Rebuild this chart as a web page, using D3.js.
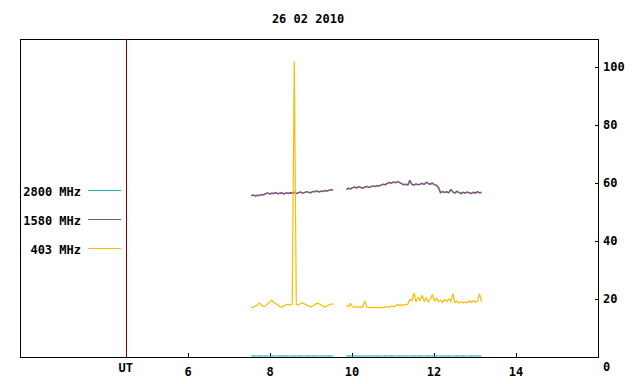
<!DOCTYPE html>
<html>
<head>
<meta charset="utf-8">
<script src="https://cdn.jsdelivr.net/npm/d3@7"></script>
<style>
  body { margin: 0; background: #fff; }
  text { font-family: "DejaVu Sans Mono", monospace; font-weight: bold; font-size: 12px; }
</style>
</head>
<body>
<div id="chart"></div>
<script>
(function() {
var width = 640,
    height = 384;

// sampling grid of the two observing runs (UT hours)
var startA = 7.54, startB = 9.86, step = 0.05;

var legendNames = ["2800 MHz", "1580 MHz", "403 MHz"];
var colors = ["#20b0b8", "#7b5c7d", "#fbbc05"];
var xTicks = [6, 8, 10, 12, 14];
var yTicks = [0, 20, 40, 60, 80, 100];
var title = "26 02 2010";

var f2800A = [0.2,0.3,0.2,0.2,0.3,0.2,0.2,0.3,0.2,0.2,0.3,0.2,0.2,0.2,0.3,0.2,0.2,0.3,0.2,0.2,
  0.2,0.3,0.2,0.2,0.3,0.2,0.2,0.2,0.3,0.2,0.2,0.3,0.2,0.2,0.2,0.3,0.2,0.2,0.3,0.2,0.2];
var f2800B = [0.2,0.3,0.2,0.2,0.2,0.3,0.2,0.2,0.3,0.2,0.2,0.2,0.3,0.2,0.2,0.3,0.2,0.2,0.2,0.3,
  0.2,0.2,0.3,0.2,0.2,0.2,0.3,0.2,0.2,0.3,0.2,0.2,0.2,0.3,0.2,0.2,0.3,0.2,0.2,0.2,
  0.3,0.2,0.2,0.3,0.2,0.2,0.2,0.3,0.2,0.2,0.3,0.2,0.2,0.2,0.3,0.2,0.2,0.3,0.2,0.2,
  0.2,0.3,0.2,0.2,0.3,0.2,0.2];

var f1580A = [55.6,55.9,55.5,55.8,55.7,56.0,55.9,56.3,56.6,56.2,56.5,56.4,56.7,56.3,56.5,56.6,56.2,56.7,56.4,56.6,
  56.5,56.8,56.4,56.6,56.9,56.5,56.7,57.0,56.8,56.6,57.1,57.0,57.3,56.9,57.2,57.1,57.4,57.2,57.5,57.7,57.6];
var f1580B = [57.7,58.2,57.9,58.4,58.6,58.3,58.7,58.5,58.2,58.6,58.8,58.5,58.7,59.0,58.8,59.1,59.0,59.3,59.6,59.4,
  59.9,60.2,59.9,60.4,60.1,60.5,60.2,59.8,59.4,59.6,59.3,60.9,59.5,59.3,59.7,59.4,59.6,59.9,59.5,60.3,
  59.8,59.6,60.0,59.4,59.2,58.4,56.6,57.1,56.7,57.0,56.6,57.8,56.9,56.5,57.2,56.7,56.4,56.8,56.5,56.9,
  56.6,56.4,56.8,56.5,57.0,56.6,56.8];

var f403A = [16.8,17.1,17.5,17.8,18.6,17.8,17.3,17.5,18.2,18.9,19.5,18.8,18.3,17.8,17.3,17.1,17.5,17.9,18.1,17.9,
  18.0,102.0,18.0,17.9,18.3,18.6,18.2,17.8,17.5,17.2,17.5,18.0,18.4,18.3,17.9,17.4,17.2,17.5,17.9,18.2,18.1];
var f403B = [17.6,17.3,18.4,17.2,17.1,17.2,17.1,17.2,17.1,19.2,17.1,17.0,16.9,16.9,17.0,16.9,16.9,17.0,16.9,17.2,
  17.2,17.1,17.5,17.3,17.5,18.1,17.7,17.9,17.8,18.0,18.1,19.8,19.2,22.0,18.9,20.6,19.3,21.2,19.0,20.4,
  18.8,19.9,21.5,19.1,20.3,18.9,19.6,18.7,19.8,19.0,20.1,18.8,21.7,18.6,19.2,18.4,19.0,18.5,18.9,18.6,
  19.3,18.7,19.4,18.8,19.2,21.8,18.9];

var series = [
  [f2800A, f2800B],
  [f1580A, f1580B],
  [f403A, f403B]
];
var starts = [startA, startB];

var left = 20, right = 598, top = 39, bottom = 357;

var x = d3.scaleLinear().domain([1.9, 16]).range([left, right]);
var y = d3.scaleLinear().domain([0, 110]).range([356.6, 38.4]);

var svg = d3.select("#chart")
  .append("svg")
  .attr("width", width)
  .attr("height", height);

svg.append("text")
  .attr("x", 308)
  .attr("y", 23)
  .attr("text-anchor", "middle")
  .text(title);

// plot frame
svg.append("rect")
  .attr("x", left + 0.5)
  .attr("y", top + 0.5)
  .attr("width", right - left)
  .attr("height", bottom - top)
  .attr("fill", "none")
  .attr("stroke", "#000")
  .attr("shape-rendering", "crispEdges");

// divider between legend and data
svg.append("line")
  .attr("x1", Math.round(x(4.48)) + 0.5)
  .attr("x2", Math.round(x(4.48)) + 0.5)
  .attr("y1", top)
  .attr("y2", bottom)
  .attr("stroke", "#800000")
  .attr("shape-rendering", "crispEdges");

svg.append("text")
  .attr("x", x(4.48))
  .attr("y", 372)
  .attr("text-anchor", "middle")
  .text("UT");

// bottom ticks
svg.selectAll(".xt")
  .data(xTicks)
  .enter().append("line")
  .attr("class", "xt")
  .attr("x1", function(d) { return Math.round(x(d)) + 0.5; })
  .attr("x2", function(d) { return Math.round(x(d)) + 0.5; })
  .attr("y1", bottom)
  .attr("y2", bottom - 4)
  .attr("stroke", "#000")
  .attr("shape-rendering", "crispEdges");

svg.selectAll(".xl")
  .data(xTicks)
  .enter().append("text")
  .attr("class", "xl")
  .attr("x", function(d) { return x(d); })
  .attr("y", 376)
  .attr("text-anchor", "middle")
  .text(function(d) { return d; });

// right ticks
svg.selectAll(".yt")
  .data(yTicks.slice(1))
  .enter().append("line")
  .attr("class", "yt")
  .attr("x1", right + 0.5)
  .attr("x2", right - 3.5)
  .attr("y1", function(d) { return Math.round(y(d)) + 0.5; })
  .attr("y2", function(d) { return Math.round(y(d)) + 0.5; })
  .attr("stroke", "#000")
  .attr("shape-rendering", "crispEdges");

svg.selectAll(".yl")
  .data(yTicks)
  .enter().append("text")
  .attr("class", "yl")
  .attr("x", 603)
  .attr("y", function(d) { return y(d) + 4 + (d === 0 ? 10 : 0); })
  .text(function(d) { return d; });

// legend
var legend = svg.selectAll(".leg")
  .data(legendNames)
  .enter().append("g")
  .attr("class", "leg")
  .attr("transform", function(d, i) { return "translate(0," + (190 + i * 29) + ")"; });

legend.append("text")
  .attr("x", 81)
  .attr("y", 6)
  .attr("text-anchor", "end")
  .text(function(d) { return d; });

legend.append("line")
  .attr("x1", 88)
  .attr("x2", 121)
  .attr("y1", 0.5)
  .attr("y2", 0.5)
  .attr("stroke", function(d, i) { return colors[i]; })
  .attr("shape-rendering", "crispEdges");

var line = d3.line()
  .x(function(d) { return x(d[0]); })
  .y(function(d) { return y(d[1]); });

series.forEach(function(segs, si) {
  segs.forEach(function(vals, k) {
    var pts = vals.map(function(v, i) { return [starts[k] + i * step, v]; });
    svg.append("path")
      .datum(pts)
      .attr("d", line)
      .attr("fill", "none")
      .attr("stroke", colors[si])
      .attr("stroke-width", si === 1 ? 1.6 : 1.2)
      .attr("stroke-linejoin", "bevel");
  });
});

})();
</script>
</body>
</html>
